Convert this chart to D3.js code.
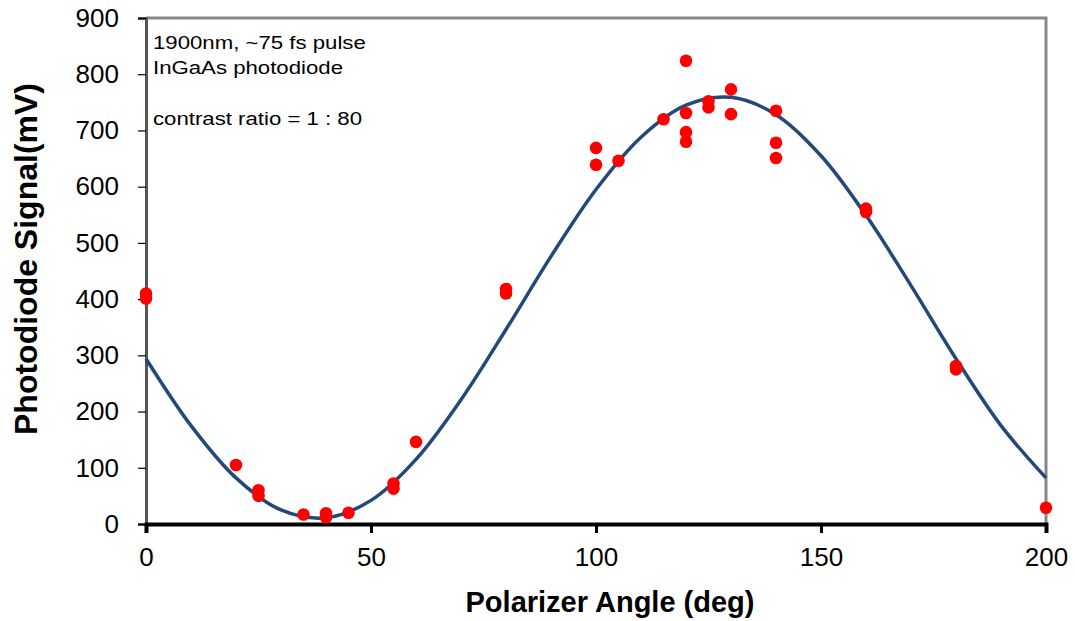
<!DOCTYPE html>
<html>
<head>
<meta charset="utf-8">
<script src="https://cdn.jsdelivr.net/npm/d3@7"></script>
<style>
  body { margin: 0; background: #fff; }
  text { font-family: "Liberation Sans", Arial, sans-serif; }
</style>
</head>
<body>
<svg id="chart"></svg>
<script>
// measured points (angle deg, signal mV)
const angles = [0, 0, 20, 25, 25, 35, 40, 40, 45, 55, 55, 60, 80, 80, 100, 100, 105, 115,
  120, 120, 120, 120, 125, 125, 130, 130, 140, 140, 140, 160, 160, 180, 180, 200];
const signals = [410, 401, 105, 60, 50, 17, 19, 12, 20, 72, 63, 146, 418, 410, 669, 639, 646, 720,
  824, 731, 697, 680, 752, 741, 773, 729, 735, 678, 651, 561, 555, 281, 275, 29];

// fit line
const fitAngles = [0, 10, 20, 30, 40, 50, 60, 70, 80, 90, 100, 110, 120, 130, 140, 150, 160, 170, 180, 190, 200];
const fitSignals = [294, 175, 82, 25, 11, 42, 115, 221, 346, 476, 595, 688, 745, 759, 728, 655, 549, 424, 294, 175, 82];

const xTicks = [0, 50, 100, 150, 200];
const yTicks = [0, 100, 200, 300, 400, 500, 600, 700, 800, 900];
const notes = ["1900nm, ~75 fs pulse", "InGaAs photodiode", "", "contrast ratio = 1 : 80"];

const width = 1075;
const height = 621;
const plotLeft = 146, plotRight = 1046, plotTop = 18, plotBottom = 524;

const svg = d3.select("#chart")
    .attr("width", width)
    .attr("height", height);

const x = d3.scaleLinear().domain([0, 200]).range([plotLeft, plotRight]);
const y = d3.scaleLinear().domain([0, 900]).range([plotBottom, plotTop]);

// frame on top and right
svg.append("path")
    .attr("d", `M${plotLeft},${plotTop}H${plotRight}V${plotBottom}`)
    .attr("fill", "none")
    .attr("stroke", "#878787")
    .attr("stroke-width", 3);

// y axis
const yAxis = svg.append("g")
    .attr("transform", `translate(${plotLeft},0)`)
    .call(d3.axisLeft(y).tickValues(yTicks).tickSize(8).tickPadding(19));
yAxis.select(".domain").attr("stroke", "#555").attr("stroke-width", 3);
yAxis.selectAll(".tick line").attr("stroke", "#000").attr("stroke-width", 1.2);
yAxis.selectAll(".tick text")
    .attr("font-size", 26)
    .attr("fill", "#000")
    .style("font-family", "'Liberation Sans', Arial, sans-serif");

// x axis
const xAxis = svg.append("g")
    .attr("transform", `translate(0,${plotBottom})`)
    .call(d3.axisBottom(x).tickValues(xTicks).tickSize(9).tickPadding(15));
xAxis.select(".domain").attr("stroke", "#000").attr("stroke-width", 4);
xAxis.selectAll(".tick line").attr("stroke", "#000").attr("stroke-width", 3);
xAxis.selectAll(".tick text")
    .attr("font-size", 26)
    .attr("fill", "#000")
    .style("font-family", "'Liberation Sans', Arial, sans-serif");

// fit curve
const line = d3.line()
    .x((d, i) => x(fitAngles[i]))
    .y(d => y(d))
    .curve(d3.curveCatmullRom);

svg.append("path")
    .datum(fitSignals)
    .attr("d", line)
    .attr("fill", "none")
    .attr("stroke", "#22497a")
    .attr("stroke-width", 3.5);

// data points
svg.append("g")
    .selectAll("circle")
    .data(signals)
    .enter()
    .append("circle")
    .attr("cx", (d, i) => x(angles[i]))
    .attr("cy", d => y(d))
    .attr("r", 6.3)
    .attr("fill", "#ff0000");

// annotation (text in the reference is drawn a bit wide)
svg.append("g")
    .attr("transform", `translate(${plotLeft + 7},0) scale(1.2,1)`)
    .selectAll("text")
    .data(notes)
    .enter()
    .append("text")
    .attr("x", 0)
    .attr("y", (d, i) => 49 + i * 25.5)
    .attr("font-size", 18.5)
    .text(d => d);

// axis titles
svg.append("text")
    .attr("x", 610)
    .attr("y", 612)
    .attr("text-anchor", "middle")
    .attr("font-size", 29)
    .attr("font-weight", "bold")
    .text("Polarizer Angle (deg)");

svg.append("text")
    .attr("transform", `translate(37,259) rotate(-90)`)
    .attr("text-anchor", "middle")
    .attr("font-size", 32)
    .attr("font-weight", "bold")
    .text("Photodiode Signal(mV)");
</script>
</body>
</html>
